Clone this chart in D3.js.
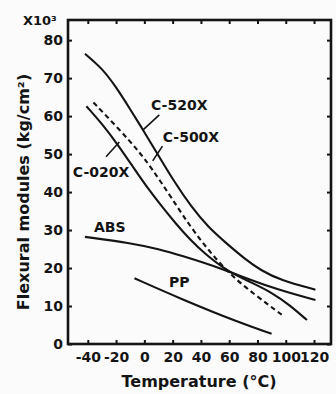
<!DOCTYPE html>
<html>
<head>
<meta charset="utf-8">
<script src="https://cdn.jsdelivr.net/npm/d3@7"></script>
<style>
  html, body { margin: 0; padding: 0; background: #fbfbfb; }
  svg { display: block; }
  text { font-family: "DejaVu Sans", sans-serif; font-weight: bold; fill: #141414; }
</style>
</head>
<body>
<svg id="chart" width="336" height="394"></svg>
<script>
// ---- data (temperature °C, flexural modulus ×10³ kg/cm²) ----
const xTicks = [-40, -20, 0, 20, 40, 60, 80, 100, 120];
const yTicks = [0, 10, 20, 30, 40, 50, 60, 70, 80];

const c520x = [[-42, 76.4], [-30, 72.6], [-21, 68.2], [-10, 61.8], [0, 55.8], [10, 49.6], [21, 42.8], [33, 36.2], [45, 30.8], [58, 26.5], [72, 22.1], [82, 19.5], [96, 16.8], [121, 14.3]];
const c500x = [[-36, 63.6], [-17, 56.2], [-5, 51.2], [5, 46.4], [19, 38.6], [35, 29.4], [58, 19.0], [78, 13.0], [99, 7.2]];
const c020x = [[-41, 62.6], [-30, 58.0], [-19, 52.6], [-8, 46.6], [2, 41.2], [12, 36.4], [22, 31.8], [32, 27.6], [42, 24.0], [58, 19.3], [75, 16.3], [90, 13.6], [103, 10.2], [115, 6.3]];
const abs   = [[-42, 28.2], [-10, 26.6], [11, 24.9], [25, 23.4], [54, 20.0], [90, 14.7], [121, 11.6]];
const pp    = [[-7, 17.3], [25, 12.0], [68, 5.5], [90, 2.7]];

const labels = [
  { text: "C-520X", t: 4.7,   v: 61.6 },
  { text: "C-500X", t: 13,    v: 53.2 },
  { text: "C-020X", t: -50.6, v: 44.0 },
  { text: "ABS",    t: -35.6, v: 29.6 },
  { text: "PP",     t: 17.5,  v: 15.1 }
];
const leaders = [
  [[10.6, 60.3], [-1.1, 56.3]],
  [[12.8, 52.1], [5.9, 48.2]],
  [[-27.1, 49.3], [-17.7, 53.2]]
];

// ---- layout ----
const svg = d3.select("#chart");
const L = 68, R = 331, T = 20, B = 344;
const x = d3.scaleLinear().domain([-54, 132]).range([L, R]);
const y = d3.scaleLinear().domain([0, 85.3]).range([B, T]);
const ink = "#141414";

// axes with inward ticks
const tl = 4;
svg.append("g").attr("transform", `translate(0,${B})`)
  .call(d3.axisBottom(x).tickValues(xTicks).tickSize(-tl).tickPadding(6).tickFormat(d => String(d).replace("−", "-")))
  .call(g => { g.select(".domain").remove(); g.selectAll("line").attr("stroke", ink).attr("stroke-width", 2);
    g.selectAll("text").attr("font-size", 14).attr("dy", "0.75em").attr("y", 7); });
svg.append("g").attr("transform", `translate(0,${T})`)
  .call(d3.axisTop(x).tickValues(xTicks).tickSize(-tl).tickFormat(""))
  .call(g => { g.select(".domain").remove(); g.selectAll("line").attr("stroke", ink).attr("stroke-width", 2); });
svg.append("g").attr("transform", `translate(${L},0)`)
  .call(d3.axisLeft(y).tickValues(yTicks).tickSize(-tl).tickPadding(6))
  .call(g => { g.select(".domain").remove(); g.selectAll("line").attr("stroke", ink).attr("stroke-width", 2);
    g.selectAll("text").attr("font-size", 14).attr("x", -5); });
svg.append("g").attr("transform", `translate(${R},0)`)
  .call(d3.axisRight(y).tickValues(yTicks).tickSize(-tl).tickFormat(""))
  .call(g => { g.select(".domain").remove(); g.selectAll("line").attr("stroke", ink).attr("stroke-width", 2); });

// frame
svg.append("rect").attr("x", L).attr("y", T).attr("width", R - L).attr("height", B - T)
  .attr("fill", "none").attr("stroke", ink).attr("stroke-width", 2.6);

// curves
const line = d3.line().x(d => x(d[0])).y(d => y(d[1])).curve(d3.curveBasis);
const series = [
  { d: c520x, dash: null },
  { d: c500x, dash: "5,3.5" },
  { d: c020x, dash: null },
  { d: abs,   dash: null },
  { d: pp,    dash: null }
];
svg.append("g").selectAll("path").data(series).join("path")
  .attr("d", s => line(s.d)).attr("fill", "none").attr("stroke", ink)
  .attr("stroke-width", 2.1).attr("stroke-dasharray", s => s.dash);

// leader lines
svg.append("g").selectAll("line").data(leaders).join("line")
  .attr("x1", d => x(d[0][0])).attr("y1", d => y(d[0][1]))
  .attr("x2", d => x(d[1][0])).attr("y2", d => y(d[1][1]))
  .attr("stroke", ink).attr("stroke-width", 1.6);

// series labels
svg.append("g").selectAll("text").data(labels).join("text")
  .attr("x", d => x(d.t)).attr("y", d => y(d.v))
  .attr("font-size", 14).text(d => d.text);

// axis titles
svg.append("text").attr("x", 23).attr("y", 25).attr("font-size", 13).text("X10³");
svg.append("text").attr("x", 199).attr("y", 387).attr("text-anchor", "middle")
  .attr("font-size", 16).text("Temperature (°C)");
svg.append("text").attr("transform", "translate(29,192) rotate(-90)").attr("text-anchor", "middle")
  .attr("font-size", 16).text("Flexural modules (kg/cm²)");
</script>
</body>
</html>
